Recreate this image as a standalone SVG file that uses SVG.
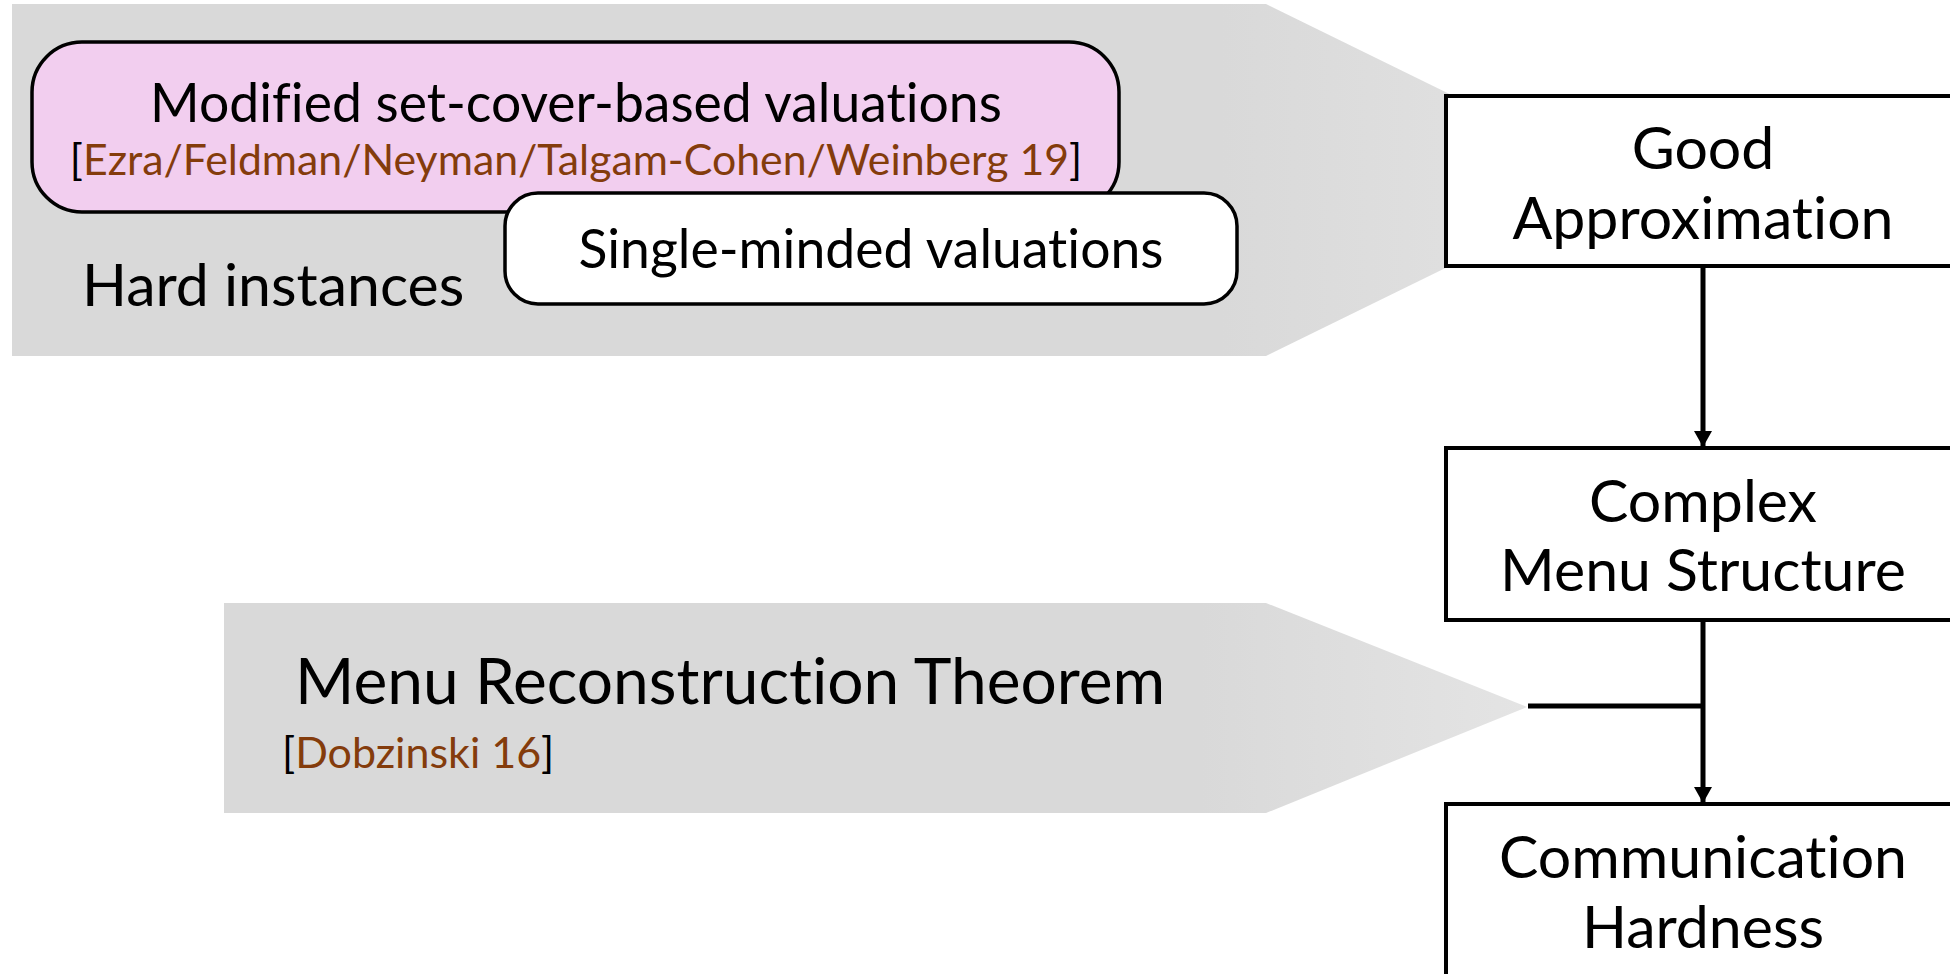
<svg xmlns="http://www.w3.org/2000/svg" width="1950" height="974" viewBox="0 0 1950 974">
<defs>
<linearGradient id="fade" x1="0" y1="0" x2="1" y2="0">
<stop offset="0" stop-color="#D9D9D9"/>
<stop offset="0.75" stop-color="#D9D9D9"/>
<stop offset="1" stop-color="#E4E4E4"/>
</linearGradient>
<marker id="arr" viewBox="0 0 16 18" refX="16" refY="9" markerWidth="16" markerHeight="18" markerUnits="userSpaceOnUse" orient="auto">
<path d="M0,0 L16,9 L0,18 Z" fill="#000"/>
</marker>
<style>
text{font-family:Lato,"Open Sans","Liberation Sans",sans-serif;fill:#000;font-variant-ligatures:none}
.big{font-size:59px}
.mid{font-size:53.5px}
.cite{font-size:42.8px}
.br{fill:#843C0C}
.box{fill:#fff;stroke:#000;stroke-width:4}
.conn{stroke:#000;stroke-width:5;fill:none}
</style>
</defs>
<rect width="1950" height="974" fill="#fff"/>
<g id="hard-instances">
<polygon points="12,4 1266,4 1625,180 1266,356 12,356" fill="url(#fade)"/>
<text x="82" y="306" class="big">Hard instances</text>
</g>
<g id="set-cover">
<rect x="32" y="42" width="1087" height="170" rx="50" fill="#F2CEEF" stroke="#000" stroke-width="3.5"/>
<text x="576" y="122" class="mid" text-anchor="middle">Modified set-cover-based valuations</text>
<text x="576" y="175" class="cite" text-anchor="middle">[<tspan class="br">Ezra/Feldman/Neyman/Talgam-Cohen/Weinberg 19</tspan>]</text>
</g>
<g id="single-minded">
<rect x="505" y="193" width="732" height="111" rx="33" fill="#fff" stroke="#000" stroke-width="3.5"/>
<text x="871" y="268" class="mid" text-anchor="middle">Single-minded valuations</text>
</g>
<g id="menu-reconstruction">
<polygon points="224,603 1266,603 1527,707 1266,813 224,813" fill="url(#fade)"/>
<text x="295" y="704" style="font-size:64px">Menu Reconstruction Theorem</text>
<text x="282" y="768" style="font-size:43px">[<tspan class="br">Dobzinski 16</tspan>]</text>
</g>
<g id="good-approximation">
<rect x="1446" y="96" width="520" height="170" class="box"/>
<text x="1703" y="169" class="big" text-anchor="middle">Good</text>
<text x="1703" y="239" class="big" text-anchor="middle">Approximation</text>
</g>
<g id="complex-menu">
<rect x="1446" y="448" width="520" height="172" class="box"/>
<text x="1703" y="522" class="big" text-anchor="middle">Complex</text>
<text x="1703" y="591" class="big" text-anchor="middle">Menu Structure</text>
</g>
<g id="communication-hardness">
<rect x="1446" y="804" width="520" height="200" class="box"/>
<text x="1703" y="878" class="big" text-anchor="middle">Communication</text>
<text x="1703" y="948" class="big" text-anchor="middle">Hardness</text>
</g>
<g id="connectors">
<line x1="1703" y1="268" x2="1703" y2="447" class="conn" marker-end="url(#arr)"/>
<line x1="1703" y1="622" x2="1703" y2="803" class="conn" marker-end="url(#arr)"/>
<line x1="1528" y1="706" x2="1703" y2="706" class="conn"/>
</g>
</svg>
